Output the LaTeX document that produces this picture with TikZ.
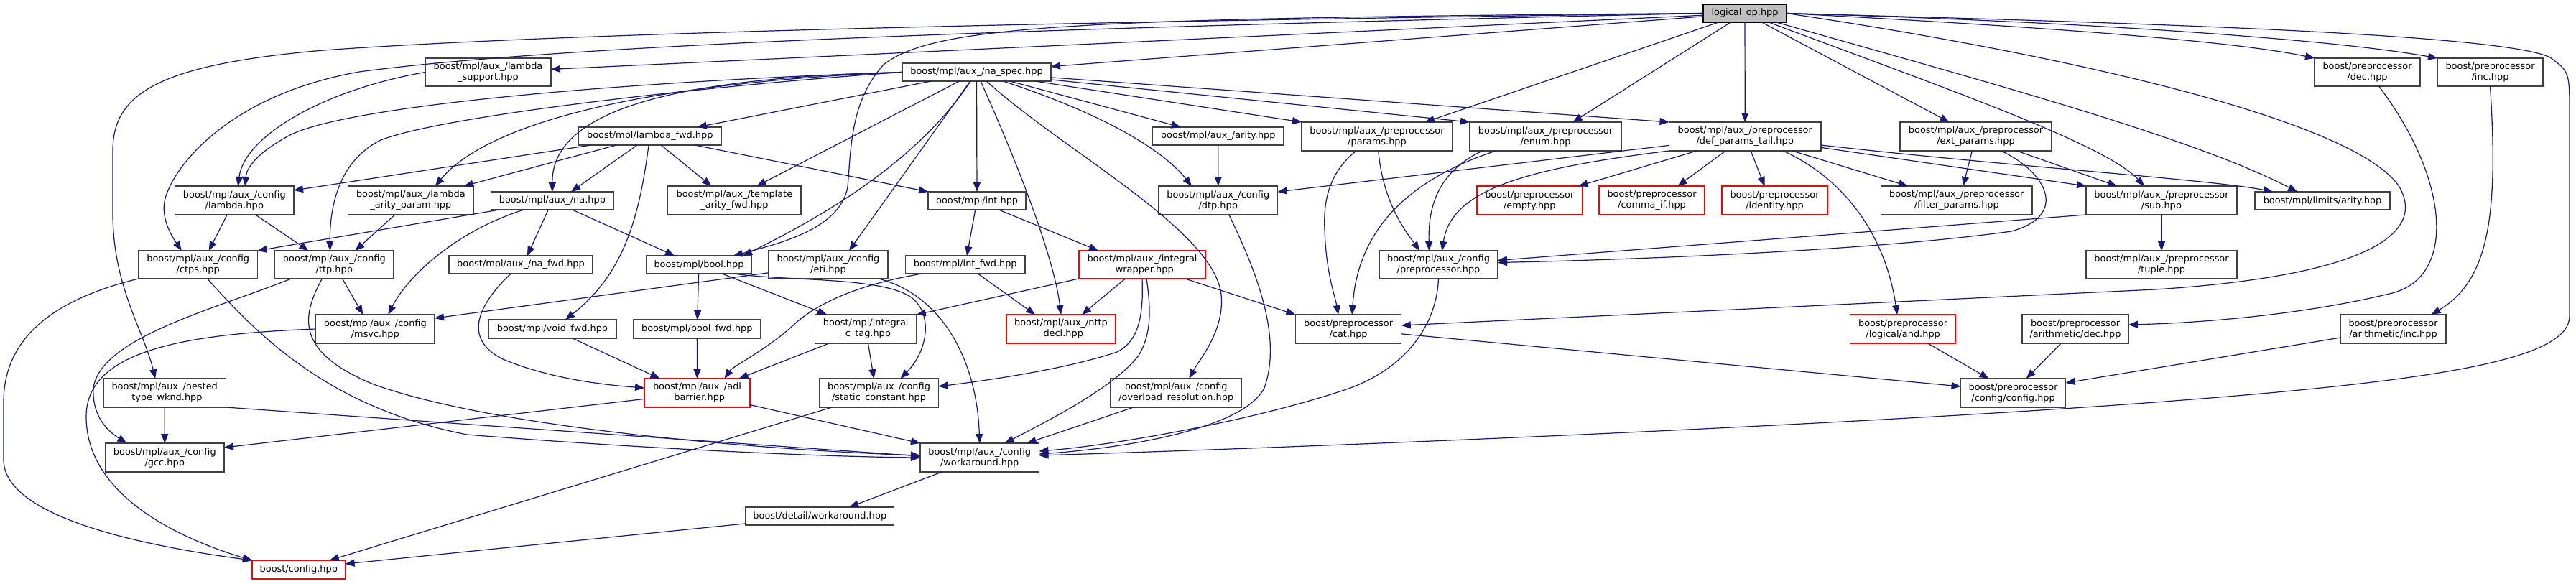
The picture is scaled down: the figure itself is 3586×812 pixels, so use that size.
\documentclass[tikz,border=0pt]{standalone}
\usepackage{fontspec}
\setmainfont{DejaVu Sans}
\usetikzlibrary{arrows.meta}
\definecolor{edgec}{HTML}{191970}
\definecolor{boxc}{HTML}{404040}
\definecolor{rootf}{HTML}{BFBFBF}
\tikzset{
  box/.style={draw=boxc, line width=1.3pt, fill=white, inner sep=0pt, outer sep=0pt, align=center, font=\fontsize{12.9pt}{15pt}\selectfont, text=black},
  rbox/.style={draw=red},
  rootbox/.style={draw=black, fill=rootf},
  dep/.style={draw=edgec, line width=1.2pt, -{Triangle[length=13pt,width=10pt]}, line join=round}
}
\newcommand\bx[7][]{\node[box,#1,minimum width={(#5-#3)*1pt},minimum height={(#6-#4)*1pt}] (#2) at ({(#3+#5)/2},{(#4+#6)/2}) {#7};}
\begin{document}
\begin{tikzpicture}[x=1pt,y=-1pt]
\fill[white] (0,0) rectangle (3586,812);
\useasboundingbox (0,0) rectangle (3586,812);
% nodes
\bx[rootbox]{root}{2371}{6}{2487}{31}{logical\_op.hpp}
\bx{lsup}{592}{81}{767}{120}{boost/mpl/aux\_/lambda\\\_support.hpp}
\bx{naspec}{1256}{88}{1463}{113}{boost/mpl/aux\_/na\_spec.hpp}
\bx{dec}{3222}{81}{3369}{120}{boost/preprocessor\\/dec.hpp}
\bx{inc}{3393}{81}{3540}{120}{boost/preprocessor\\/inc.hpp}
\bx{lfwd}{805.5}{177}{1004}{202}{boost/mpl/lambda\_fwd.hpp}
\bx{arity}{1604.5}{177}{1787}{202}{boost/mpl/aux\_/arity.hpp}
\bx{params}{1812}{170}{2022}{210}{boost/mpl/aux\_/preprocessor\\/params.hpp}
\bx{enum}{2046}{170}{2257}{210}{boost/mpl/aux\_/preprocessor\\/enum.hpp}
\bx{dpt}{2323.5}{170}{2535}{210}{boost/mpl/aux\_/preprocessor\\/def\_params\_tail.hpp}
\bx{ext}{2645}{170}{2856}{210}{boost/mpl/aux\_/preprocessor\\/ext\_params.hpp}
\bx{clambda}{243.7}{259}{409}{299}{boost/mpl/aux\_/config\\/lambda.hpp}
\bx{lap}{484.4}{259}{659.3}{299}{boost/mpl/aux\_/lambda\\\_arity\_param.hpp}
\bx{na}{683.8}{267}{854}{292}{boost/mpl/aux\_/na.hpp}
\bx{taf}{929.8}{259}{1115}{299}{boost/mpl/aux\_/template\\\_arity\_fwd.hpp}
\bx{int}{1292}{267}{1428}{292}{boost/mpl/int.hpp}
\bx{dtp}{1613}{259}{1778.6}{299}{boost/mpl/aux\_/config\\/dtp.hpp}
\bx[rbox]{empty}{2056}{259}{2202.5}{299}{boost/preprocessor\\/empty.hpp}
\bx[rbox]{commaif}{2226}{259}{2373}{299}{boost/preprocessor\\/comma\_if.hpp}
\bx[rbox]{identity}{2397}{259}{2544}{299}{boost/preprocessor\\/identity.hpp}
\bx{filter}{2618.5}{259}{2829}{299}{boost/mpl/aux\_/preprocessor\\/filter\_params.hpp}
\bx{sub}{2904}{259}{3114}{299}{boost/mpl/aux\_/preprocessor\\/sub.hpp}
\bx{larity}{3139}{267}{3327}{292}{boost/mpl/limits/arity.hpp}
\bx{ctps}{193}{349}{358.5}{388}{boost/mpl/aux\_/config\\/ctps.hpp}
\bx{ttp}{382.7}{349}{548}{388}{boost/mpl/aux\_/config\\/ttp.hpp}
\bx{nafwd}{625}{356}{825}{381}{boost/mpl/aux\_/na\_fwd.hpp}
\bx{bool}{900}{356}{1046}{381}{boost/mpl/bool.hpp}
\bx{eti}{1070}{349}{1236}{388}{boost/mpl/aux\_/config\\/eti.hpp}
\bx{intfwd}{1260.5}{356}{1427}{381}{boost/mpl/int\_fwd.hpp}
\bx[rbox]{iwrap}{1502}{349}{1678}{388}{boost/mpl/aux\_/integral\\\_wrapper.hpp}
\bx{ppcfg}{1920}{349}{2085}{388}{boost/mpl/aux\_/config\\/preprocessor.hpp}
\bx{tuple}{2904}{349}{3114}{388}{boost/mpl/aux\_/preprocessor\\/tuple.hpp}
\bx{msvc}{439.7}{438}{605}{478}{boost/mpl/aux\_/config\\/msvc.hpp}
\bx{voidfwd}{680}{445}{858}{471}{boost/mpl/void\_fwd.hpp}
\bx{boolfwd}{881.6}{445}{1059}{471}{boost/mpl/bool\_fwd.hpp}
\bx{ictag}{1134.6}{438}{1275.8}{478}{boost/mpl/integral\\\_c\_tag.hpp}
\bx[rbox]{nttp}{1401}{438}{1553}{478}{boost/mpl/aux\_/nttp\\\_decl.hpp}
\bx{cat}{1803.4}{438}{1950.8}{478}{boost/preprocessor\\/cat.hpp}
\bx[rbox]{land}{2575.6}{438}{2722.6}{478}{boost/preprocessor\\/logical/and.hpp}
\bx{adec}{2815}{438}{2963}{478}{boost/preprocessor\\/arithmetic/dec.hpp}
\bx{ainc}{3258}{438}{3405}{478}{boost/preprocessor\\/arithmetic/inc.hpp}
\bx{ntw}{143.9}{527}{314.5}{567}{boost/mpl/aux\_/nested\\\_type\_wknd.hpp}
\bx[rbox]{adl}{897}{527}{1044}{567}{boost/mpl/aux\_/adl\\\_barrier.hpp}
\bx{sconst}{1140.7}{527}{1306.4}{567}{boost/mpl/aux\_/config\\/static\_constant.hpp}
\bx{ovres}{1546}{527}{1728.5}{567}{boost/mpl/aux\_/config\\/overload\_resolution.hpp}
\bx{ppconfig}{2729.5}{527}{2875.7}{567}{boost/preprocessor\\/config/config.hpp}
\bx{gcc}{146.6}{617}{312}{657}{boost/mpl/aux\_/config\\/gcc.hpp}
\bx{wa}{1281}{617}{1446.4}{657}{boost/mpl/aux\_/config\\/workaround.hpp}
\bx{dwa}{1037.8}{706}{1244.8}{731}{boost/detail/workaround.hpp}
\bx[rbox]{bconfig}{351}{780}{480.6}{806}{boost/config.hpp}
% edges from root
\draw[dep] (root) -- (lsup);
\draw[dep] (root) -- (naspec);
\draw[dep] (root.west) .. controls (1500,25) and (1300,35) .. (1230,90) .. controls (1185,140) and (1185,200) .. (1180,260) .. controls (1170,320) and (1080,340) .. ([xshift=48pt]bool.north);
\draw[dep] (root.west) .. controls (1500,30) and (800,45) .. (450,70) .. controls (220,90) and (157,130) .. (157,210) -- (157,300) .. controls (158,400) and (200,460) .. ([xshift=-13pt]ntw.north);
\draw[dep] (root.west) .. controls (1500,38) and (800,60) .. (500,100) .. controls (330,130) and (250,220) .. (232,270) .. controls (220,300) and (240,330) .. ([xshift=-23pt]ctps.north);
\draw[dep] (root.east) .. controls (2900,30) and (3480,45) .. (3550,80) .. controls (3577,100) .. (3577,160) -- (3577,440) .. controls (3577,500) and (3400,530) .. (3000,560) .. controls (2600,590) and (1900,620) .. ([yshift=3pt]wa.east);
\draw[dep] (root.east) .. controls (2900,80) and (3280,170) .. (3340,260) .. controls (3380,330) and (3280,385) .. (3000,403) -- ([yshift=5pt]cat.east);
\draw[dep] (root.east) .. controls (2800,35) and (3100,55) .. (dec.north west);
\draw[dep] (root.east) .. controls (2900,30) and (3250,55) .. (inc.north west);
\draw[dep] (root) .. controls (2750,110) and (3050,190) .. ([xshift=-35pt]larity.north);
\draw[dep] (root) -- ([xshift=-37pt]ext.north);
\draw[dep] (root) -- (dpt);
\draw[dep] (root) .. controls (2700,120) and (2930,200) .. ([xshift=-24pt]sub.north);
\draw[dep] (root) -- ([xshift=67pt]params.north);
\draw[dep] (root) -- ([xshift=38pt]enum.north);
% na_spec
\draw[dep] (naspec) -- ([xshift=66pt]lfwd.north);
\draw[dep] (naspec) -- (int);
\draw[dep] (naspec) .. controls (1300,190) and (1210,270) .. ([xshift=61pt]bool.north);
\draw[dep] (naspec.west) .. controls (950,108) and (768,150) .. (na.north);
\draw[dep] (naspec) -- ([xshift=-52pt]arity.north);
\draw[dep] (naspec) -- ([xshift=31pt]taf.north);
\draw[dep] (naspec) -- (params.north west);
\draw[dep] (naspec) -- (enum.north west);
\draw[dep] (naspec) -- (dpt.north west);
\draw[dep] (naspec.west) .. controls (900,115) and (680,170) .. ([xshift=34pt]lap.north);
\draw[dep] ([xshift=37pt]naspec.south) .. controls (1540,160) and (1620,210) .. ([xshift=-37pt]dtp.north);
\draw[dep] (naspec) -- ([xshift=29pt]eti.north);
\draw[dep] (naspec) .. controls (1440,280) and (1470,380) .. (nttp.north);
\draw[dep] (naspec.west) .. controls (1000,118) and (620,160) .. (530,195) .. controls (470,225) and (459,290) .. ([xshift=-6pt]ttp.north);
\draw[dep] (naspec.west) .. controls (900,112) and (480,145) .. (400,190) .. controls (355,215) and (343,235) .. ([xshift=15pt]clambda.north);
\draw[dep] (naspec) .. controls (1480,210) and (1690,320) .. (1700,410) .. controls (1705,460) and (1670,500) .. ([xshift=18pt]ovres.north);
% lambda_support
\draw[dep] (lsup.west) .. controls (450,125) and (340,190) .. ([xshift=5pt]clambda.north);
% lambda_fwd
\draw[dep] (lfwd) -- ([yshift=-6pt]clambda.north east);
\draw[dep] (lfwd) -- ([xshift=74pt]lap.north);
\draw[dep] (lfwd) -- ([xshift=26pt]na.north);
\draw[dep] (lfwd) .. controls (890,300) and (870,380) .. ([xshift=18pt]voidfwd.north);
\draw[dep] (lfwd) -- ([xshift=-32pt]taf.north);
\draw[dep] (lfwd) -- (int.north west);
% na
\draw[dep] (na) -- ([xshift=9pt]nafwd.north);
\draw[dep] (na) -- ([xshift=-34pt]bool.north);
\draw[dep] (na) -- (ctps.north east);
\draw[dep] (na) .. controls (640,320) and (570,380) .. ([xshift=18pt]msvc.north);
% config lambda, lambda_arity_param
\draw[dep] (clambda) -- ([xshift=15pt]ctps.north);
\draw[dep] (clambda) -- ([xshift=-36pt]ttp.north);
\draw[dep] (lap) -- ([xshift=29pt]ttp.north);
% ctps
\draw[dep] (ctps.south west) .. controls (60,420) and (5,480) .. (5,560) -- (5,640) .. controls (5,720) and (200,760) .. (bconfig.north west);
\draw[dep] ([xshift=13pt]ctps.south) .. controls (370,480) and (470,570) .. (650,605) .. controls (900,625) and (1150,636) .. (wa.west);
% ttp
\draw[dep] ([xshift=-60pt]ttp.south) .. controls (300,430) and (140,470) .. (130,540) .. controls (128,580) and (150,600) .. ([xshift=-53pt]gcc.north);
\draw[dep] (ttp) -- ([xshift=-17pt]msvc.north);
\draw[dep] ([xshift=-17pt]ttp.south) .. controls (420,440) and (410,490) .. (520,535) .. controls (700,600) and (1100,628) .. ([yshift=3pt]wa.west);
% na_fwd
\draw[dep] ([xshift=-14pt]nafwd.south) .. controls (670,420) and (640,470) .. (700,500) .. controls (760,525) and (830,535) .. ([yshift=7pt]adl.west);
% bool
\draw[dep] (bool) -- (boolfwd);
\draw[dep] (bool) -- ([xshift=-54pt]ictag.north);
\draw[dep] ([xshift=48pt]bool.south) .. controls (1100,392) and (1230,385) .. (1270,415) .. controls (1300,440) and (1290,490) .. ([xshift=30pt]sconst.north);
% eti
\draw[dep] (eti) -- ([yshift=15pt]msvc.east);
\draw[dep] ([xshift=70pt]eti.south) .. controls (1310,410) and (1360,500) .. (wa.north);
% int, int_fwd
\draw[dep] (int) -- (intfwd);
\draw[dep] (int) -- ([xshift=-61pt]iwrap.north);
\draw[dep] (intfwd) -- ([xshift=-36pt]nttp.north);
\draw[dep] ([xshift=-60pt]intfwd.south) .. controls (1200,395) and (1140,420) .. (1105,452) .. controls (1070,485) and (1020,510) .. ([xshift=38pt]adl.north);
% integral_wrapper
\draw[dep] (iwrap) -- (ictag.north east);
\draw[dep] (iwrap) -- ([xshift=29pt]nttp.north);
\draw[dep] (iwrap.south) .. controls (1592,440) and (1585,475) .. (1555,490) .. controls (1480,515) and (1370,530) .. ([yshift=9pt]sconst.east);
\draw[dep] ([xshift=6pt]iwrap.south) .. controls (1604,440) and (1600,470) .. (1585,495) .. controls (1550,540) and (1460,585) .. ([xshift=35pt]wa.north);
\draw[dep] (iwrap) -- (cat.north west);
% integral_c_tag, void_fwd, bool_fwd
\draw[dep] (ictag) -- ([xshift=-7pt]sconst.north);
\draw[dep] (ictag) -- ([xshift=58pt]adl.north);
\draw[dep] (voidfwd) -- ([xshift=-52pt]adl.north);
\draw[dep] (boolfwd) -- (adl);
% adl_barrier, static_constant, nested_type_wknd, msvc
\draw[dep] (adl) -- ([yshift=-6pt]gcc.north east);
\draw[dep] (adl) -- (wa.north west);
\draw[dep] (sconst) -- ([xshift=43pt]bconfig.north);
\draw[dep] (ntw) -- (gcc);
\draw[dep] (ntw.south east) -- ([yshift=2pt]wa.west);
\draw[dep] (msvc.west) .. controls (250,465) and (120,490) .. (120,580) .. controls (120,690) and (250,750) .. (bconfig.north west);
% workaround
\draw[dep] (wa) -- ([xshift=41pt]dwa.north);
\draw[dep] (dwa) -- ([yshift=8pt]bconfig.east);
% dtp, arity, overload
\draw[dep] ([xshift=15pt]dtp.south) .. controls (1750,380) and (1785,470) .. (1760,540) .. controls (1730,600) and (1550,625) .. ([yshift=5pt]wa.east);
\draw[dep] (arity) -- (dtp);
\draw[dep] (ovres) -- ([xshift=66pt]wa.north);
% params, enum
\draw[dep] (params) .. controls (1925,280) and (1955,320) .. ([xshift=-26pt]ppcfg.north);
\draw[dep] ([xshift=-29pt]params.south) .. controls (1850,240) and (1842,280) .. (1844,320) .. controls (1846,380) and (1858,410) .. ([xshift=-14pt]cat.north);
\draw[dep] ([xshift=-88pt]enum.south) .. controls (2000,240) and (1988,290) .. ([xshift=-13pt]ppcfg.north);
\draw[dep] ([xshift=-69pt]enum.south) .. controls (1960,250) and (1890,320) .. ([xshift=5pt]cat.north);
% def_params_tail
\draw[dep] (dpt) -- ([yshift=-8pt]dtp.north east);
\draw[dep] (dpt.south west) .. controls (2120,235) and (2020,265) .. ([xshift=5pt]ppcfg.north);
\draw[dep] (dpt) -- ([xshift=-5pt]empty.north east);
\draw[dep] (dpt) -- ([xshift=36pt]commaif.north);
\draw[dep] (dpt) -- ([xshift=-14pt]identity.north);
\draw[dep] ([xshift=53pt]dpt.south) .. controls (2570,250) and (2625,330) .. ([xshift=-8pt]land.north);
\draw[dep] (dpt) -- ([xshift=-68pt]filter.north);
\draw[dep] (dpt) -- (sub.north west);
\draw[dep] ([yshift=-12pt]dpt.east) .. controls (2800,232) and (3080,250) .. ([xshift=-69pt]larity.north);
% ext_params
\draw[dep] (ext) -- ([xshift=9pt]filter.north);
\draw[dep] ([xshift=35pt]ext.south) .. controls (2850,240) and (2880,300) .. (2800,322) .. controls (2600,350) and (2250,362) .. ([yshift=3pt]ppcfg.east);
\draw[dep] (ext) -- ([xshift=-62pt]sub.north);
% sub
\draw[dep] (sub) -- (tuple);
\draw[dep] (sub.south west) -- ([yshift=6pt]ppcfg.east);
% preprocessor config
\draw[dep] (ppcfg.south) .. controls (2000,450) and (1960,510) .. (1880,540) .. controls (1750,585) and (1550,620) .. ([yshift=9pt]wa.east);
% cat, and, arithmetic
\draw[dep] (cat) -- ([yshift=9pt]ppconfig.west);
\draw[dep] (land) -- ([xshift=-34pt]ppconfig.north);
\draw[dep] (adec) -- ([xshift=18pt]ppconfig.north);
\draw[dep] (ainc) -- ([yshift=-6pt]ppconfig.north east);
\draw[dep] ([xshift=16pt]dec.south) .. controls (3410,250) and (3420,385) .. (3330,408) .. controls (3200,440) and (3050,450) .. ([yshift=6pt]adec.east);
\draw[dep] (inc.south) .. controls (3478,300) and (3465,390) .. ([xshift=53pt]ainc.north);
\end{tikzpicture}
\end{document}
